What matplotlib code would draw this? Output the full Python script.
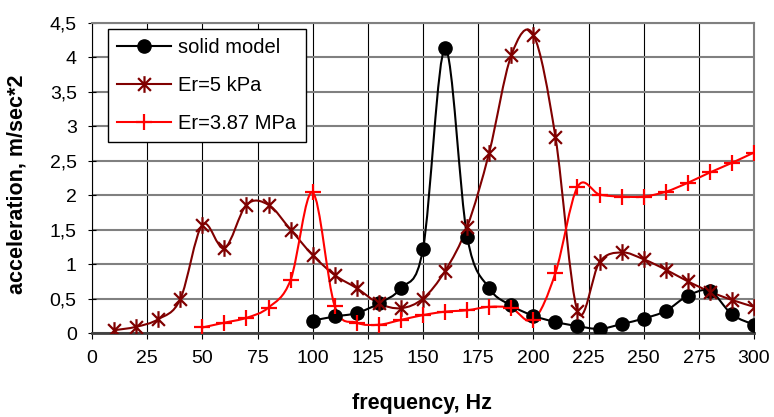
import numpy as np
import matplotlib
matplotlib.use("Agg")
import matplotlib.pyplot as plt
from matplotlib.path import Path
from matplotlib.patches import PathPatch
from matplotlib.lines import Line2D
from matplotlib.ticker import FuncFormatter, MultipleLocator

plt.rcParams['font.family'] = ['Liberation Sans', 'DejaVu Sans']

# --- dane ---
freq_solid = [100, 110, 120, 130, 140, 150, 160, 170, 180, 190, 200,
              210, 220, 230, 240, 250, 260, 270, 280, 290, 300]
acc_solid = [0.18, 0.24, 0.29, 0.43, 0.65, 1.22, 4.13, 1.40, 0.65, 0.40, 0.25,
             0.16, 0.10, 0.06, 0.13, 0.21, 0.32, 0.54, 0.61, 0.27, 0.12]

freq_5kpa = [10, 20, 30, 40, 50, 60, 70, 80, 90, 100, 110, 120, 130, 140, 150,
             160, 170, 180, 190, 200, 210, 220, 230, 240, 250, 260, 270, 280,
             290, 300]
acc_5kpa = [0.04, 0.09, 0.20, 0.49, 1.57, 1.23, 1.86, 1.86, 1.50, 1.13, 0.84,
            0.65, 0.43, 0.36, 0.50, 0.90, 1.54, 2.62, 4.03, 4.33, 2.85, 0.32,
            1.03, 1.17, 1.07, 0.92, 0.75, 0.60, 0.48, 0.38]

freq_387 = [50, 60, 70, 80, 90, 100, 110, 120, 130, 140, 150, 160, 170, 180,
            190, 200, 210, 220, 230, 240, 250, 260, 270, 280, 290, 300]
acc_387 = [0.08, 0.15, 0.22, 0.37, 0.77, 2.04, 0.39, 0.15, 0.12, 0.19, 0.26,
           0.31, 0.33, 0.38, 0.36, 0.19, 0.87, 2.12, 2.01, 1.98, 1.98, 2.05,
           2.18, 2.33, 2.47, 2.62]

series = [
    ("solid model", freq_solid, acc_solid, "black"),
    ("Er=5 kPa", freq_5kpa, acc_5kpa, "#800000"),
    ("Er=3.87 MPa", freq_387, acc_387, "#ff0000"),
]

# znacznik gwiazdki jak w Excelu (X + pionowa kreska)
asterisk = Path([(-1, -1), (1, 1), (-1, 1), (1, -1), (0, -1.3), (0, 1.3)],
                [Path.MOVETO, Path.LINETO, Path.MOVETO, Path.LINETO,
                 Path.MOVETO, Path.LINETO])
markers = {
    "solid model": dict(marker="o", markersize=9.5, markerfacecolor="black",
                        markeredgecolor="black"),
    "Er=5 kPa": dict(marker=asterisk, markersize=12, markeredgewidth=1.6),
    "Er=3.87 MPa": dict(marker="+", markersize=11, markeredgewidth=1.6),
}


def smooth_path(x, y):
    """Wygładzona linia (Bezier, styl Excela)."""
    pts = np.column_stack([x, y]).astype(float)
    verts = [pts[0]]
    codes = [Path.MOVETO]
    n = len(pts)
    for i in range(n - 1):
        p0 = pts[i - 1] if i > 0 else pts[i]
        p1 = pts[i]
        p2 = pts[i + 1]
        p3 = pts[i + 2] if i + 2 < n else pts[i + 1]
        c1 = p1 + (p2 - p0) / 6.0
        c2 = p2 - (p3 - p1) / 6.0
        verts += [c1, c2, p2]
        codes += [Path.CURVE4] * 3
    return Path(verts, codes)


fig = plt.figure(figsize=(7.74, 4.17), dpi=100)
ax = fig.add_axes([92 / 774, 1 - 333 / 417, 662 / 774, 310 / 417])

handles = []
for name, fx, fy, col in series:
    ax.add_patch(PathPatch(smooth_path(fx, fy), facecolor="none",
                           edgecolor=col, linewidth=1.5, zorder=3))
    ax.plot(fx, fy, linestyle="none", color=col, zorder=4, **markers[name])
    handles.append(Line2D([], [], color=col, linewidth=1.5, **markers[name]))

ax.set_xlim(0, 300)
ax.set_ylim(0, 4.5)
ax.xaxis.set_major_locator(MultipleLocator(25))
ax.yaxis.set_major_locator(MultipleLocator(0.5))
ax.yaxis.set_major_formatter(FuncFormatter(
    lambda v, p: ("%g" % v).replace(".", ",")))

# siatka: pionowe czarne, poziome szare
ax.grid(True, axis="x", color="black", linewidth=0.8, zorder=1)
ax.grid(True, axis="y", color="#808080", linewidth=1.5, zorder=1)
ax.set_axisbelow(True)

for side in ["top", "right"]:
    ax.spines[side].set_color("#808080")
    ax.spines[side].set_linewidth(1.5)
ax.spines["left"].set_color("black")
ax.spines["left"].set_linewidth(0.8)
ax.spines["bottom"].set_color("#404040")
ax.spines["bottom"].set_linewidth(2)

ax.tick_params(axis="x", direction="out", length=4.5, width=0.8,
               labelsize=14, colors="black", pad=8)
ax.tick_params(axis="y", direction="inout", length=6, width=0.8,
               labelsize=14, colors="black", pad=8)

ax.set_xlabel("frequency, Hz", fontsize=15.5, fontweight="bold")
ax.set_ylabel("acceleration, m/sec*2", fontsize=15.5, fontweight="bold")
ax.xaxis.set_label_coords(0.499, -0.195)
ax.yaxis.set_label_coords(-0.098, 0.479)

leg = ax.legend(handles, [s[0] for s in series], loc="upper left",
                bbox_to_anchor=(0.024, 0.981), borderaxespad=0,
                fontsize=14.5, frameon=True, fancybox=False, shadow=False,
                handlelength=2.7, handletextpad=0.35, labelspacing=0.95,
                borderpad=0.45)
leg.get_frame().set_edgecolor("black")
leg.get_frame().set_linewidth(1.0)
leg.get_frame().set_alpha(1)
leg.set_zorder(10)

fig.savefig("out.png", dpi=100)
